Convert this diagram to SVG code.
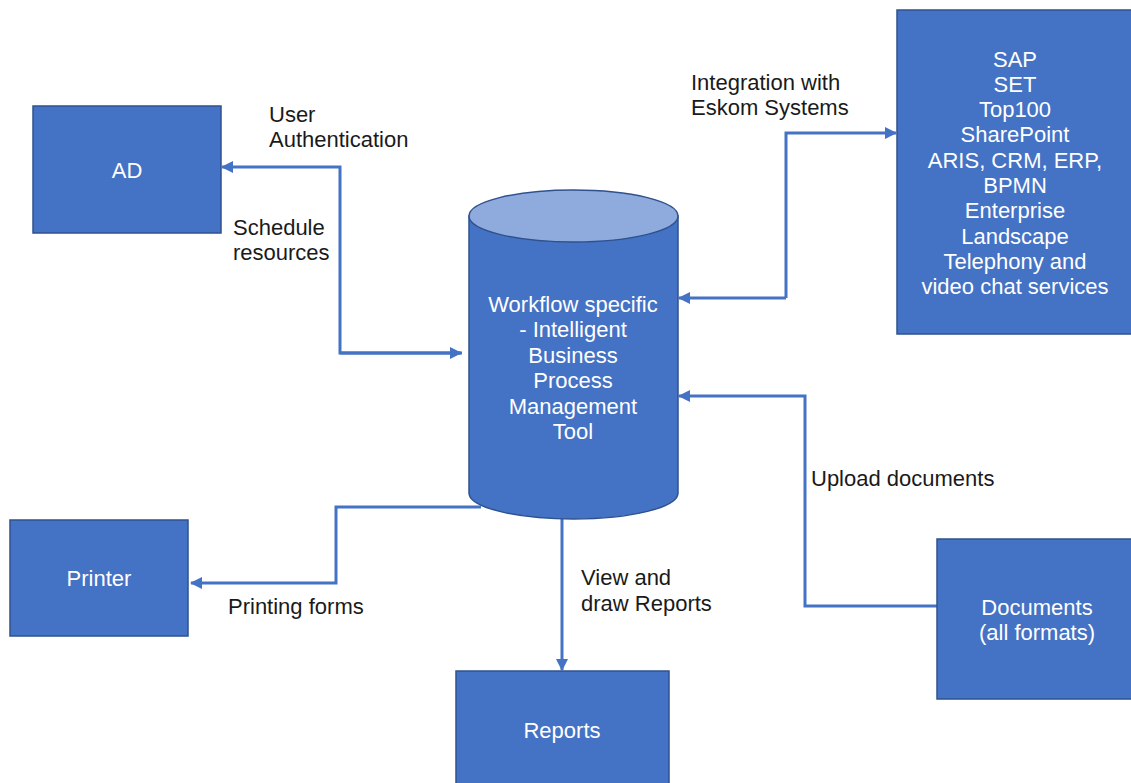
<svg xmlns="http://www.w3.org/2000/svg" width="1131" height="783" viewBox="0 0 1131 783">
<style>
.node{fill:#4472C4;stroke:#2F528F;stroke-width:1.5}
.top{fill:#8FAADC;stroke:#2F528F;stroke-width:1.5}
.nt{font-family:"Liberation Sans",Arial,sans-serif;font-size:22px;fill:#FFFFFF;text-anchor:middle}
.lb{font-family:"Liberation Sans",Arial,sans-serif;font-size:22px;fill:#1A1A1A}
.cn{fill:none;stroke:#4472C4;stroke-width:3}
</style>
<defs>
<marker id="ah" viewBox="0 0 12 12" refX="11" refY="6" markerWidth="12" markerHeight="12" markerUnits="userSpaceOnUse" orient="auto">
<path d="M0,0 L12,6 L0,12 Z" fill="#4472C4"/>
</marker>
</defs>
<rect width="1131" height="783" fill="#FFFFFF"/>
<g id="connectors">
<path class="cn" d="M462,353 H340 V167 H222" marker-end="url(#ah)"/>
<path class="cn" d="M340,353 H461" marker-end="url(#ah)"/>
<path class="cn" d="M786,298 V133 H896" marker-end="url(#ah)"/>
<path class="cn" d="M786,298 H679" marker-end="url(#ah)"/>
<path class="cn" d="M937,606 H805 V396 H679" marker-end="url(#ah)"/>
<path class="cn" d="M481,507 H336 V583 H191" marker-end="url(#ah)"/>
<path class="cn" d="M562,519 V670" marker-end="url(#ah)"/>
</g>
<g id="labels">
<text class="lb" x="269" y="121.7">User</text>
<text class="lb" x="269" y="147.3">Authentication</text>
<text class="lb" x="233" y="234.5">Schedule</text>
<text class="lb" x="233" y="260">resources</text>
<text class="lb" x="691" y="89.5">Integration with</text>
<text class="lb" x="691" y="115">Eskom Systems</text>
<text class="lb" x="811" y="485.5">Upload documents</text>
<text class="lb" x="228" y="614">Printing forms</text>
<text class="lb" x="581" y="585">View and</text>
<text class="lb" x="581" y="610.5">draw Reports</text>
</g>
<g id="node-ad">
<rect class="node" x="33" y="106" width="188" height="127"/>
<text class="nt" x="127" y="177.5">AD</text>
</g>
<g id="node-tool">
<path class="node" d="M469,216 V493 A104.5,26 0 0 0 678,493 V216 Z"/>
<ellipse class="top" cx="573.5" cy="216" rx="104.5" ry="26"/>
<text class="nt" x="573" y="311.5">Workflow specific</text>
<text class="nt" x="573" y="337">- Intelligent</text>
<text class="nt" x="573" y="362.5">Business</text>
<text class="nt" x="573" y="388">Process</text>
<text class="nt" x="573" y="413.5">Management</text>
<text class="nt" x="573" y="439">Tool</text>
</g>
<g id="node-systems">
<rect class="node" x="897" y="10" width="240" height="324"/>
<text class="nt" x="1015" y="66.5">SAP</text>
<text class="nt" x="1015" y="91.8">SET</text>
<text class="nt" x="1015" y="117.1">Top100</text>
<text class="nt" x="1015" y="142.4">SharePoint</text>
<text class="nt" x="1015" y="167.7">ARIS, CRM, ERP,</text>
<text class="nt" x="1015" y="193">BPMN</text>
<text class="nt" x="1015" y="218.3">Enterprise</text>
<text class="nt" x="1015" y="243.6">Landscape</text>
<text class="nt" x="1015" y="268.9">Telephony and</text>
<text class="nt" x="1015" y="294.2">video chat services</text>
</g>
<g id="node-printer">
<rect class="node" x="10" y="520" width="178" height="116"/>
<text class="nt" x="99" y="585.5">Printer</text>
</g>
<g id="node-documents">
<rect class="node" x="937" y="539" width="200" height="160"/>
<text class="nt" x="1037" y="614.5">Documents</text>
<text class="nt" x="1037" y="640">(all formats)</text>
</g>
<g id="node-reports">
<rect class="node" x="456" y="671" width="213" height="120"/>
<text class="nt" x="562" y="737.5">Reports</text>
</g>
</svg>
